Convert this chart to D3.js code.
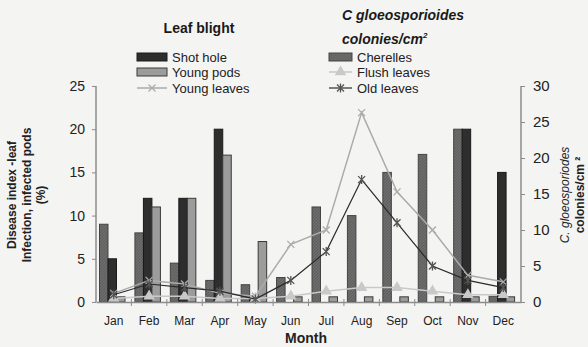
<!DOCTYPE html>
<html>
<head>
<meta charset="utf-8">
<script src="https://cdn.jsdelivr.net/npm/d3@7"></script>
<style>
  html, body { margin: 0; padding: 0; background: #f4f4f3; }
  svg { display: block; font-family: Arial, "Liberation Sans", sans-serif; }
</style>
</head>
<body>
<svg id="chart" width="588" height="347"></svg>
<script>
// Monthly disease index and C. gloeosporioides colony counts
const months = ["Jan","Feb","Mar","Apr","May","Jun","Jul","Aug","Sep","Oct","Nov","Dec"];

// Leaf blight (left axis, %)
const shotHole   = [5, 12, 12, 20, 0.4, 0, 0, 0, 0, 0, 20, 15];
const youngPods  = [0.6, 11, 12, 17, 7, 0.6, 0.6, 0.6, 0.6, 0.6, 0.6, 0.6];
const youngLeaves = [1.2, 3, 2.5, 1.2, 0.8, 8, 10, 26.3, 15.3, 10, 3.7, 2.8];

// C. gloeosporioides colonies/cm² (right axis)
const cherelles   = [10.8, 9.6, 5.4, 3, 2.4, 3.4, 13.2, 12, 18, 20.5, 24, 0.8];
const flushLeaves = [0.5, 0.8, 0.8, 0.5, 0.5, 0.8, 1.5, 2, 2, 1.5, 1, 1];
const oldLeaves   = [1, 2.5, 2, 1.5, 0.4, 3, 7, 17, 11, 5, 3, 2];

const leftTicks = [0, 5, 10, 15, 20, 25];
const rightTicks = [0, 5, 10, 15, 20, 25, 30];

const svg = d3.select("#chart");
const x0 = 96, x1 = 521, yBase = 302, yTop = 86;

const x = d3.scaleBand().domain(months).range([x0, x1]).paddingInner(0).paddingOuter(0);
const yL = d3.scaleLinear().domain([0, 25]).range([yBase, yTop]);
const yR = d3.scaleLinear().domain([0, 30]).range([yBase, yTop]);

const slotW = 8.5, slotStart = 3.5;
const slotX = (m, i) => x(m) + slotStart + i * slotW;

// Hatch for cherelles bars
const defs = svg.append("defs");
const pat = defs.append("pattern").attr("id", "hatch").attr("patternUnits", "userSpaceOnUse")
  .attr("width", 3).attr("height", 3);
pat.append("rect").attr("width", 3).attr("height", 3).attr("fill", "#6c6c6c");
pat.append("path").attr("d", "M0,3 L3,0").attr("stroke", "#5a5a5a").attr("stroke-width", 0.8);

const barSeries = [
  { name: "Cherelles", values: cherelles, scale: yR, slot: 0, fill: "url(#hatch)", stroke: "#444" },
  { name: "Shot hole", values: shotHole, scale: yL, slot: 1, fill: "#2e2e2e", stroke: "#1a1a1a" },
  { name: "Young pods", values: youngPods, scale: yL, slot: 2, fill: "#9c9c9c", stroke: "#3a3a3a" }
];

const plot = svg.append("g");

barSeries.forEach(s => {
  plot.append("g").selectAll("rect")
    .data(months.map((m, i) => ({ m, v: s.values[i] })).filter(d => d.v > 0))
    .join("rect")
    .attr("x", d => slotX(d.m, s.slot))
    .attr("y", d => s.scale(d.v))
    .attr("width", slotW)
    .attr("height", d => yBase - s.scale(d.v))
    .attr("fill", s.fill)
    .attr("stroke", s.stroke)
    .attr("stroke-width", 1);
});

// Marker shapes
function markerPath(kind, r) {
  if (kind === "x") return `M${-r},${-r}L${r},${r}M${-r},${r}L${r},${-r}`;
  if (kind === "star") return `M${-r},${-r}L${r},${r}M${-r},${r}L${r},${-r}M0,${-r - 1}L0,${r + 1}`;
  return d3.symbol().type(d3.symbolTriangle).size(r * r * 3)();
}

const lineSeries = [
  { name: "Young leaves", values: youngLeaves, scale: yR, color: "#ababab", marker: "x", width: 1.5 },
  { name: "Flush leaves", values: flushLeaves, scale: yR, color: "#c9c9c9", marker: "tri", width: 1.5 },
  { name: "Old leaves", values: oldLeaves, scale: yR, color: "#2a2a2a", marker: "star", width: 1.2 }
];

lineSeries.forEach(s => {
  const pts = months.map((m, i) => [x(m) + x.bandwidth() / 2, s.scale(s.values[i])]);
  plot.append("path").attr("d", d3.line()(pts))
    .attr("fill", "none").attr("stroke", s.color).attr("stroke-width", s.width);
  plot.append("g").selectAll("path").data(pts).join("path")
    .attr("transform", d => `translate(${d[0]},${d[1]})`)
    .attr("d", markerPath(s.marker, 3.5))
    .attr("fill", s.marker === "tri" ? s.color : "none")
    .attr("stroke", s.marker === "star" ? "#555" : s.color)
    .attr("stroke-width", 1.3);
});

// Axes
const axisColor = "#8c8c8c";
const leftAxis = svg.append("g").attr("transform", `translate(${x0},0)`)
  .call(d3.axisLeft(yL).tickValues(leftTicks).tickSize(4).tickPadding(7));
const rightAxis = svg.append("g").attr("transform", `translate(${x1},0)`)
  .call(d3.axisRight(yR).tickValues(rightTicks).tickSize(4).tickPadding(8));
const bottomAxis = svg.append("g").attr("transform", `translate(0,${yBase})`)
  .call(d3.axisBottom(x).tickSize(0).tickPadding(14));

[leftAxis, rightAxis, bottomAxis].forEach(a => {
  a.select(".domain").attr("stroke", axisColor).attr("stroke-width", 1.5);
  a.selectAll(".tick line").attr("stroke", axisColor);
  a.selectAll("text").attr("fill", "#222").attr("font-family", "Arial, 'Liberation Sans', sans-serif");
});
leftAxis.select(".domain").attr("d", `M0,${yBase}V${yTop}`);
rightAxis.select(".domain").attr("d", `M0,${yBase}V${yTop}`);
leftAxis.selectAll("text").attr("font-size", 14);
rightAxis.selectAll("text").attr("font-size", 15);
bottomAxis.selectAll("text").attr("font-size", 12);

// Small month boundary ticks on the baseline
svg.append("g").selectAll("line").data(months.slice(1)).join("line")
  .attr("x1", d => x(d)).attr("x2", d => x(d))
  .attr("y1", yBase - 3).attr("y2", yBase + 4)
  .attr("stroke", axisColor).attr("stroke-width", 1);

// Axis titles
svg.append("text").attr("x", 306).attr("y", 343).attr("text-anchor", "middle")
  .attr("font-size", 14).attr("font-weight", "bold").attr("fill", "#222").text("Month");

const lt = svg.append("text").attr("transform", "translate(30,195) rotate(-90)")
  .attr("text-anchor", "middle").attr("font-size", 12).attr("font-weight", "bold").attr("fill", "#222");
lt.append("tspan").attr("x", 0).attr("dy", "-1.15em").text("Disease index -leaf");
lt.append("tspan").attr("x", 0).attr("dy", "1.2em").text("Infection, infected pods");
lt.append("tspan").attr("x", 0).attr("dy", "1.2em").text("(%)");

const rt = svg.append("text").attr("transform", "translate(569,195) rotate(-90)")
  .attr("text-anchor", "middle").attr("font-size", 12).attr("fill", "#222");
rt.append("tspan").attr("x", 0).attr("dy", 0).attr("font-style", "italic").text("C. gloeosporiodes");
rt.append("tspan").attr("x", 0).attr("dy", "1.25em").attr("font-weight", "bold").text("colonies/cm ²");

// Legend
svg.append("text").attr("x", 199).attr("y", 33).attr("text-anchor", "middle")
  .attr("font-size", 14).attr("font-weight", "bold").attr("fill", "#1a1a1a").text("Leaf blight");
const gt = svg.append("text").attr("font-size", 14).attr("font-weight", "bold")
  .attr("font-style", "italic").attr("fill", "#1a1a1a");
gt.append("tspan").attr("x", 342).attr("y", 20).text("C gloeosporioides");
gt.append("tspan").attr("x", 342).attr("y", 44).text("colonies/cm");
gt.append("tspan").attr("dy", -6).attr("font-size", 8).text("2");

const legendItems = [
  { s: barSeries[1], type: "bar", x: 137, y: 57, w: 30 },
  { s: barSeries[2], type: "bar", x: 137, y: 72, w: 30 },
  { s: lineSeries[0], type: "line", x: 137, y: 88, w: 30 },
  { s: barSeries[0], type: "bar", x: 329, y: 57, w: 23 },
  { s: lineSeries[1], type: "line", x: 329, y: 72, w: 23 },
  { s: lineSeries[2], type: "line", x: 329, y: 88, w: 23 }
];
const lg = svg.append("g");
legendItems.forEach(it => {
  if (it.type === "bar") {
    lg.append("rect").attr("x", it.x).attr("y", it.y - 4).attr("width", it.w).attr("height", 8)
      .attr("fill", it.s.fill).attr("stroke", it.s.stroke);
  } else {
    lg.append("line").attr("x1", it.x).attr("x2", it.x + it.w).attr("y1", it.y).attr("y2", it.y)
      .attr("stroke", it.s.color).attr("stroke-width", it.s.width);
    lg.append("path").attr("transform", `translate(${it.x + it.w / 2},${it.y})`)
      .attr("d", markerPath(it.s.marker, 3.5))
      .attr("fill", it.s.marker === "tri" ? it.s.color : "none")
      .attr("stroke", it.s.marker === "star" ? "#555" : it.s.color).attr("stroke-width", 1.3);
  }
  lg.append("text").attr("x", it.x + it.w + 5).attr("y", it.y + 5)
    .attr("font-size", 13).attr("fill", "#222").text(it.s.name);
});
</script>
</body>
</html>
